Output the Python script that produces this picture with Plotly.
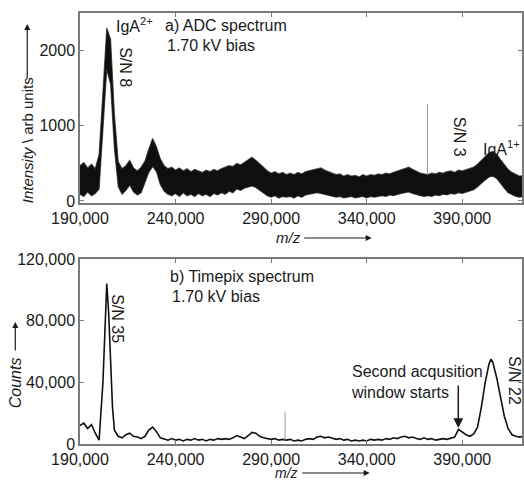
import plotly.graph_objects as go

# ---------------- data ----------------
# a) ADC spectrum: noisy band, upper / lower envelope every 2000 m/z
adc_mz = list(range(190000, 422001, 2000))
adc_upper = [470, 510, 440, 490, 430, 620, 1450, 2300, 2150, 1150,
             520, 430, 470, 540, 440, 400, 450, 530, 690, 830,
             720, 560, 470, 430, 450, 410, 440, 400, 430, 390,
             420, 400, 380, 410, 390, 420, 400, 430, 450, 470,
             460, 500, 480, 510, 540, 580, 540, 500, 450, 400,
             370, 390, 360, 380, 350, 370, 350, 380, 360, 390,
             400, 420, 430, 440, 410, 390, 370, 350, 360, 330,
             350, 330, 340, 320, 350, 330, 350, 340, 360, 350,
             370, 360, 380, 400, 420, 440, 450, 420, 390, 370,
             360, 350, 370, 360, 380, 370, 390, 400, 380, 410,
             400, 420, 430, 450, 490, 540, 590, 640, 660, 620,
             550, 480, 420, 380, 350, 330, 340]
adc_lower = [90, 60, 120, 70, 100, 160, 950, 1750, 1550, 700,
             190, 90, 140, 210, 120, 80, 110, 240, 380, 460,
             390, 220, 130, 90, 70, 100, 60, 110, 70, 90,
             60, 100, 70, 90, 60, 100, 80, 110, 90, 130,
             110, 160, 140, 170, 190, 200, 180, 140, 100, 70,
             50, 70, 40, 60, 50, 60, 40, 70, 50, 80,
             90, 100, 110, 100, 90, 70, 60, 50, 60, 40,
             50, 60, 40, 50, 60, 40, 60, 50, 60, 70,
             60, 80, 70, 90, 100, 110, 120, 100, 80, 70,
             60, 70, 60, 80, 70, 90, 80, 100, 90, 110,
             100, 120, 130, 150, 190, 240, 280, 320, 330, 300,
             230, 170, 110, 80, 60, 50, 60]
adc_spike_mz = [371800, 371800]
adc_spike_val = [350, 1290]

# b) Timepix spectrum
tpx_mz = [190000, 192000, 194000, 196000, 198000, 200000, 202000, 203000,
          204000, 205000, 206000, 207000, 208000, 210000, 212000, 214000,
          216000, 218000, 220000, 222000, 224000, 226000, 228000, 230000,
          232000, 234000, 236000, 238000, 240000, 242000, 244000, 246000,
          248000, 250000, 252000, 254000, 256000, 258000, 260000, 262000,
          264000, 266000, 268000, 270000, 272000, 274000, 276000, 278000,
          280000, 282000, 284000, 286000, 288000, 290000, 292000, 294000,
          296000, 298000, 300000, 302000, 304000, 306000, 308000, 310000,
          312000, 314000, 316000, 318000, 320000, 322000, 324000, 326000,
          328000, 330000, 332000, 334000, 336000, 338000, 340000, 342000,
          344000, 346000, 348000, 350000, 352000, 354000, 356000, 358000,
          360000, 362000, 364000, 366000, 368000, 370000, 372000, 374000,
          376000, 378000, 380000, 382000, 384000, 386000, 388000, 390000,
          392000, 394000, 396000, 398000, 400000, 402000, 404000, 405000,
          406000, 408000, 410000, 412000, 414000, 416000, 418000, 420000,
          422000]
tpx_counts = [12000, 13500, 10000, 12500, 7000, 2500, 40000, 78000,
              104000, 85000, 52000, 24000, 9000, 5000, 4000, 6000,
              7000, 5000, 4500, 3500, 5000, 9000, 11000, 8000,
              4000, 3000, 2500, 3500, 2500, 3000, 2000, 3000,
              2500, 3500, 2500, 3000, 2000, 3000, 2500, 3500,
              3000, 3500, 3000, 4000, 5500, 4500, 3500, 5500,
              7500, 7000, 5000, 4000, 3500, 3000, 3500, 2500,
              3000, 2500, 3000, 2000, 2500, 2000, 3000, 3500,
              3000, 4500, 5000, 4000, 4500, 3500, 3000, 3500,
              2500, 3000, 2000, 2500, 2000, 2500, 2000, 3000,
              2500, 3000, 2500, 3500, 3000, 4000, 3500, 4500,
              5000, 4000, 4500, 3500, 3000, 4000, 3000, 3500,
              2500, 3000, 3500, 3000, 3500, 4500, 9500, 7500,
              6000, 5000, 6500, 11000, 24000, 40000, 52000, 55000,
              53000, 43000, 30000, 18000, 10000, 6000, 5000, 4500,
              5000]
tpx_spike_mz = [297300, 297300]
tpx_spike_val = [2500, 20600]

x_ticks = [190000, 240000, 290000, 340000, 390000]
x_tick_text = ["190,000", "240,000", "290,000", "340,000", "390,000"]
adc_ticks = [0, 1000, 2000]
adc_tick_text = ["0", "1000", "2000"]
tpx_ticks = [0, 40000, 80000, 120000]
tpx_tick_text = ["0", "40,000", "80,000", "120,000"]

# ---------------- figure ----------------
W, H = 524, 480
ML, MR, MT, MB = 80, 0, 13, 36
PW, PH = W - ML - MR, H - MT - MB


def px(xp):
    return (xp - ML) / PW


def py(yp):
    return (H - MB - yp) / PH


FONT = "Liberation Sans, Arial, sans-serif"
TXT = "#1a1a1a"
AX = "#7a7a7a"

fig = go.Figure()

fig.add_trace(go.Scatter(x=adc_mz, y=adc_lower, mode="lines",
                         line=dict(color="rgba(30,30,30,0.7)", width=1.2),
                         xaxis="x", yaxis="y", showlegend=False, hoverinfo="skip"))
fig.add_trace(go.Scatter(x=adc_mz, y=adc_upper, mode="lines", fill="tonexty",
                         fillcolor="#0f0f0f",
                         line=dict(color="rgba(30,30,30,0.7)", width=1.2),
                         xaxis="x", yaxis="y", showlegend=False, hoverinfo="skip"))
fig.add_trace(go.Scatter(x=adc_spike_mz, y=adc_spike_val, mode="lines",
                         line=dict(color="#999", width=1),
                         xaxis="x", yaxis="y", showlegend=False, hoverinfo="skip"))

fig.add_trace(go.Scatter(x=tpx_mz, y=tpx_counts, mode="lines",
                         line=dict(color="#111", width=1.6),
                         xaxis="x2", yaxis="y2", showlegend=False, hoverinfo="skip"))
fig.add_trace(go.Scatter(x=tpx_spike_mz, y=tpx_spike_val, mode="lines",
                         line=dict(color="#999", width=1),
                         xaxis="x2", yaxis="y2", showlegend=False, hoverinfo="skip"))

xr = [190000, 190000 + PW * 50000 / 96]
axis_common = dict(showgrid=False, zeroline=False, showline=True, linecolor=AX,
                   linewidth=1.5, mirror="ticks", ticks="inside", ticklen=4,
                   tickcolor=AX, tickfont=dict(family=FONT, size=16, color=TXT))

fig.update_layout(
    width=W, height=H,
    margin=dict(l=ML, r=MR, t=MT, b=MB),
    paper_bgcolor="white", plot_bgcolor="white",
    xaxis=dict(domain=[0, 1], range=xr, anchor="y", tickvals=x_ticks,
               ticktext=x_tick_text, **axis_common),
    yaxis=dict(domain=[py(203), 1], range=[-27, 2500], anchor="x",
               tickvals=adc_ticks, ticktext=adc_tick_text, **axis_common),
    xaxis2=dict(domain=[0, 1], range=xr, anchor="y2", tickvals=x_ticks,
                ticktext=x_tick_text, **axis_common),
    yaxis2=dict(domain=[0, py(259)], range=[0, 120000], anchor="x2",
                tickvals=tpx_ticks, ticktext=tpx_tick_text, **axis_common),
)


def txt(x, y, text, xanchor="left", yanchor="middle", angle=0, size=16, align="left"):
    fig.add_annotation(x=px(x), y=py(y), xref="paper", yref="paper", text=text,
                       showarrow=False, xanchor=xanchor, yanchor=yanchor,
                       textangle=angle, align=align,
                       font=dict(family=FONT, size=size, color=TXT))


def arrow(x0, y0, x1, y1, width=1.2, size=1.0):
    # tail (x0,y0) -> head (x1,y1), pixel coordinates
    fig.add_annotation(x=px(x1), y=py(y1), xref="paper", yref="paper", text="",
                       showarrow=True, ax=x0 - x1, ay=y0 - y1,
                       arrowhead=2, arrowsize=size, arrowwidth=width,
                       arrowcolor=TXT)


# panel a texts
txt(114, 25, "IgA<sup>2+</sup>")
txt(163, 25, "a) ADC spectrum")
txt(165, 46, "1.70 kV bias")
txt(125, 67, "S/N 8", xanchor="center", angle=90)
txt(462, 137, "S/N 3", xanchor="center", angle=90)
txt(483, 148, "IgA<sup>1+</sup>")

# panel b texts
txt(168, 276, "b) Timepix spectrum")
txt(170, 296, "1.70 kV bias")
txt(118, 319, "S/N 35", xanchor="center", angle=90)
txt(350, 382, "Second acqusition<br>window starts", align="left")
arrow(460, 384, 460, 428, width=1.5, size=1.3)
txt(517, 380, "S/N 22", xanchor="center", angle=90)

# axis titles
txt(27, 140, "<i>Intensity</i> \\ arb units", xanchor="center", angle=-90, size=15)
arrow(27, 80, 27, 24, width=1.2)
txt(15, 383, "<i>Counts</i>", xanchor="center", angle=-90, size=16)
arrow(15, 352, 15, 322, width=1.2)
txt(289, 238, "<i>m/z</i>", xanchor="center", size=15)
arrow(304, 238, 373, 238, width=1.2)
txt(287, 473, "<i>m/z</i>", xanchor="center", size=14)
arrow(302, 473, 371, 473, width=1.2)

fig.write_html("out.html")
